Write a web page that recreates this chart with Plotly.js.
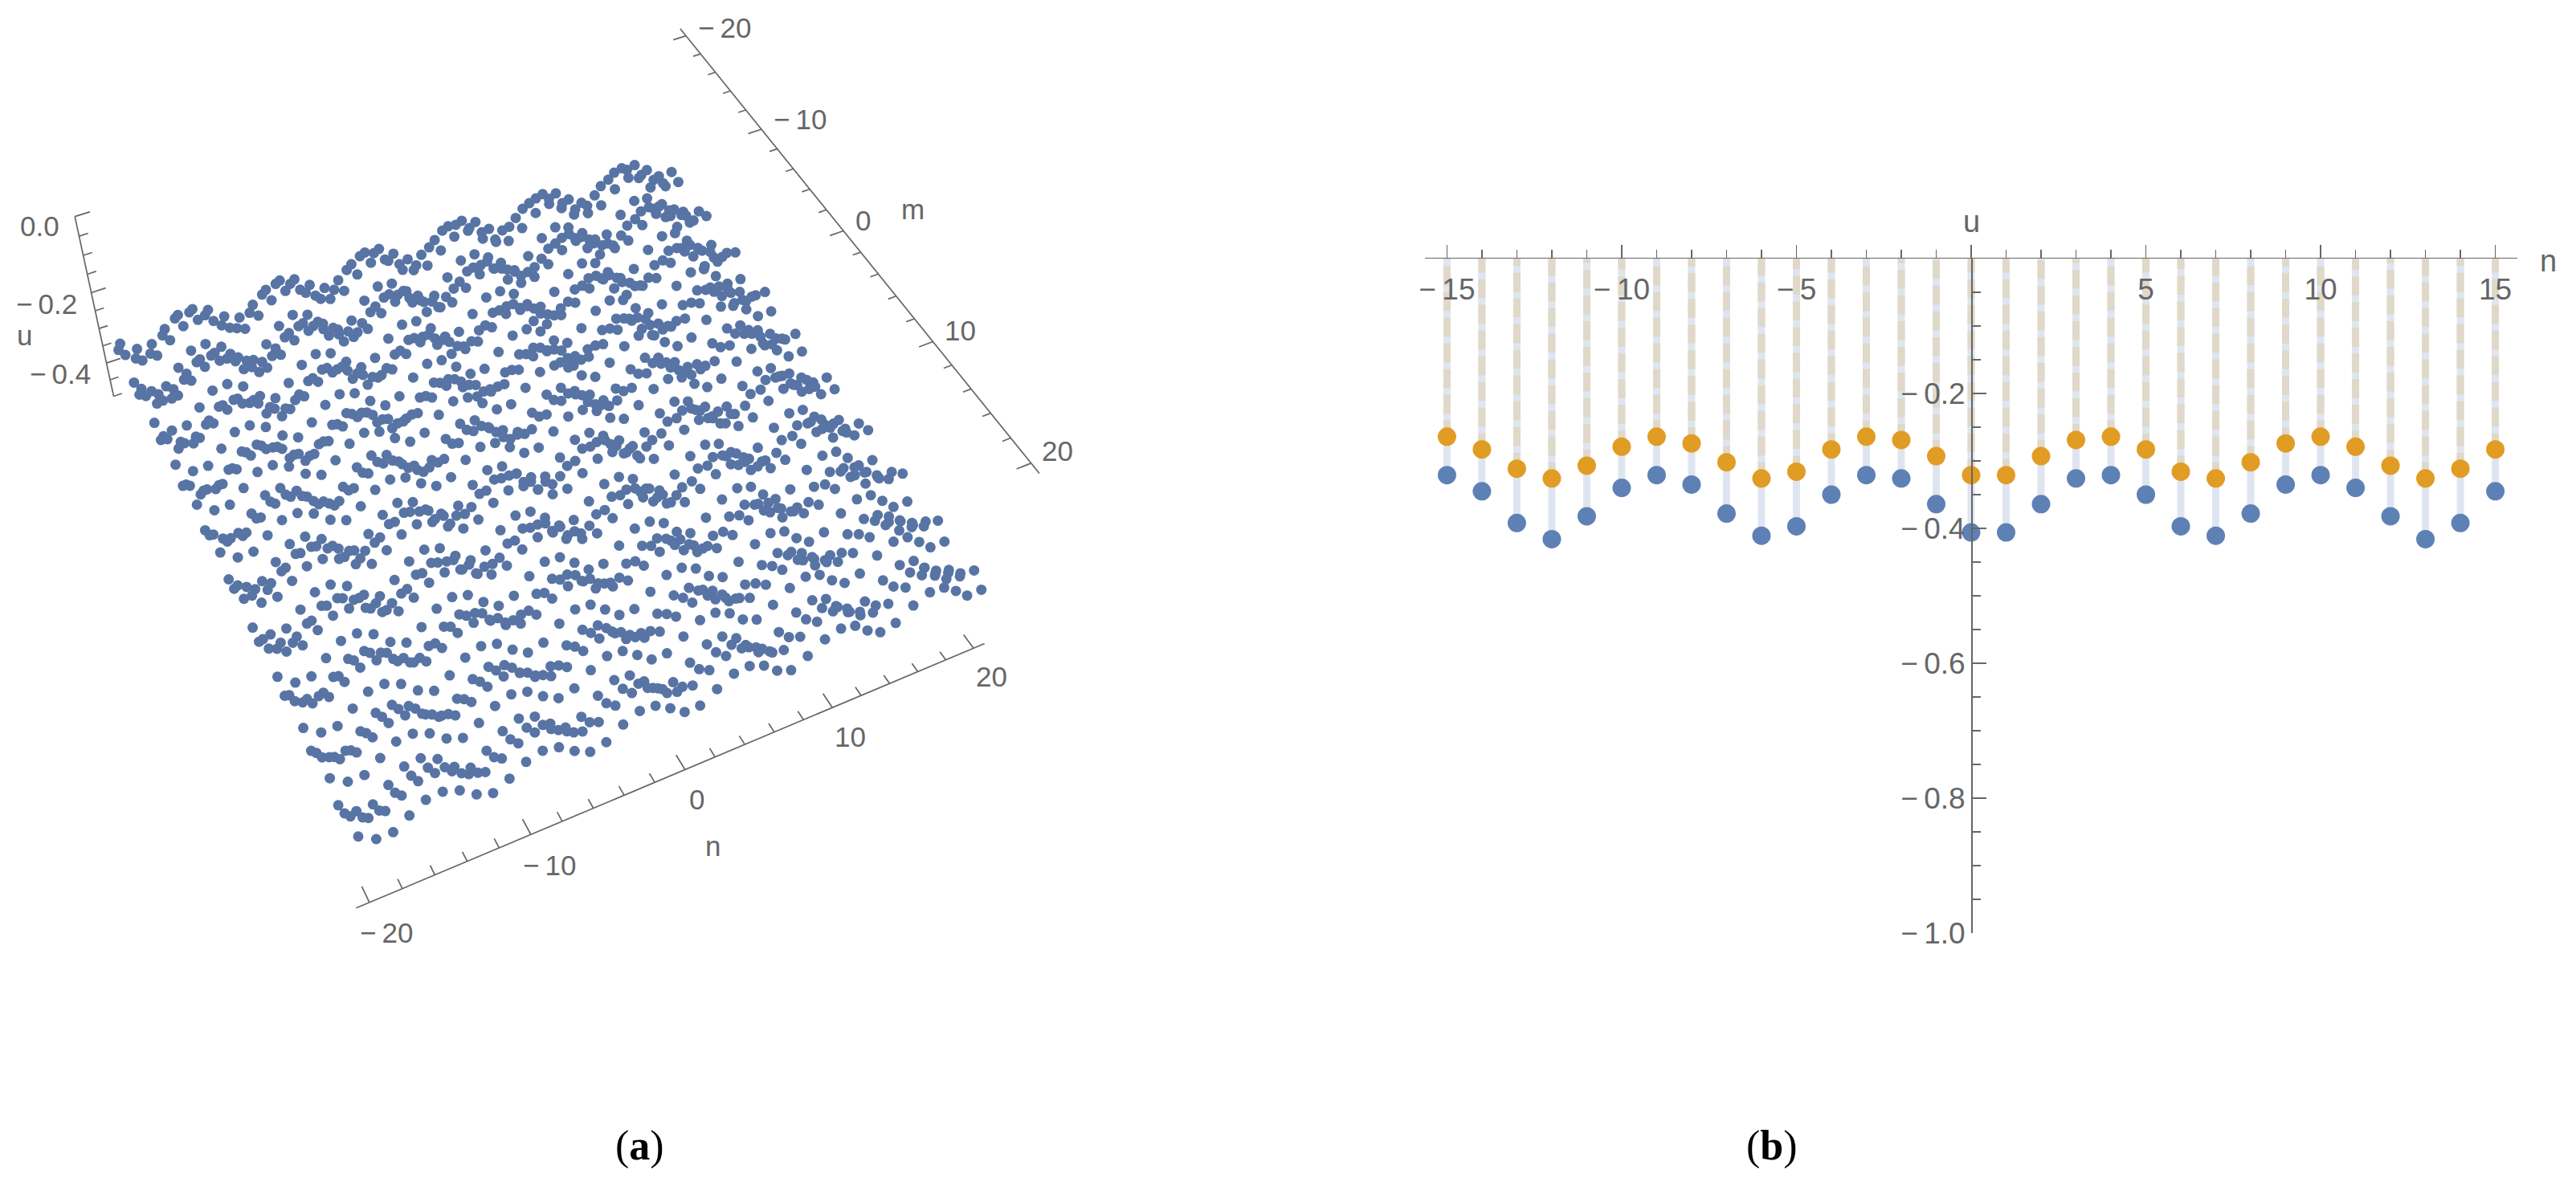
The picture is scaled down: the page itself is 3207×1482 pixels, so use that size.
<!DOCTYPE html>
<html><head><meta charset="utf-8"><script src="https://cdn.plot.ly/plotly-3.0.1.min.js"></script>
<style>body{margin:0;background:#fff;overflow:hidden}#g{width:3207px;height:1482px}</style></head>
<body><div id="g"></div>
<script>
// Panel (b): values
const nB=[-15,-14,-13,-12,-11,-10,-9,-8,-7,-6,-5,-4,-3,-2,-1,0,1,2,3,4,5,6,7,8,9,10,11,12,13,14,15];
const blue=[-.321,-.345,-.392,-.416,-.382,-.340,-.321,-.335,-.378,-.411,-.397,-.350,-.321,-.326,-.364,-.406,-.406,-.364,-.326,-.321,-.350,-.397,-.411,-.378,-.335,-.321,-.340,-.382,-.416,-.392,-.345];
const orange=[-.264,-.283,-.3115,-.326,-.307,-.279,-.264,-.274,-.302,-.326,-.316,-.283,-.264,-.269,-.293,-.321,-.321,-.293,-.269,-.264,-.283,-.316,-.326,-.302,-.274,-.264,-.279,-.307,-.326,-.3115,-.283];
const xTicks=[-15,-10,-5,0,5,10,15],xLabels=['−\u200915','−\u200910','−\u20095','','5','10','15'];
const yTicks=[-.2,-.4,-.6,-.8,-1],yLabels=['−\u20090.2','−\u20090.4','−\u20090.6','−\u20090.8','−\u20091.0'];
const yMinor=[-.05,-.1,-.15,-.25,-.3,-.35,-.45,-.5,-.55,-.65,-.7,-.75,-.85,-.9,-.95];
// Panel (a): one repeating cell of the surface; rows by m (period 21), columns from n=-20 (period 19)
const uM0=[-.358,-.399,-.399,-.358,-.321,-.316,-.340,-.386,-.409,-.376,-.335,-.316,-.330,-.372,-.404,-.390,-.344,-.316,-.321];
const uM1=[-.349,-.388,-.388,-.349,-.314,-.310,-.332,-.375,-.397,-.366,-.327,-.310,-.323,-.362,-.393,-.380,-.336,-.310,-.314];
const uM2=[-.301,-.330,-.330,-.301,-.275,-.272,-.288,-.320,-.337,-.314,-.285,-.272,-.282,-.311,-.333,-.324,-.292,-.272,-.275];
const uM3=[-.303,-.333,-.333,-.303,-.277,-.273,-.290,-.323,-.340,-.316,-.286,-.273,-.283,-.313,-.336,-.326,-.293,-.273,-.277];
const uM4=[-.352,-.392,-.392,-.352,-.317,-.312,-.334,-.379,-.401,-.369,-.330,-.312,-.325,-.365,-.396,-.383,-.339,-.312,-.317];
const uM5=[-.356,-.397,-.397,-.356,-.320,-.315,-.338,-.383,-.406,-.373,-.333,-.315,-.328,-.370,-.401,-.388,-.343,-.315,-.320];
const uM6=[-.308,-.338,-.338,-.308,-.281,-.277,-.294,-.328,-.346,-.321,-.291,-.277,-.287,-.318,-.342,-.332,-.298,-.277,-.281];
const uM7=[-.297,-.325,-.325,-.297,-.272,-.269,-.285,-.316,-.332,-.309,-.282,-.269,-.278,-.307,-.328,-.319,-.288,-.269,-.272];
const uM8=[-.343,-.381,-.381,-.343,-.309,-.305,-.326,-.369,-.390,-.360,-.322,-.305,-.317,-.356,-.386,-.373,-.331,-.305,-.309];
const uM9=[-.361,-.402,-.402,-.361,-.324,-.319,-.343,-.389,-.412,-.379,-.338,-.319,-.333,-.375,-.407,-.393,-.347,-.319,-.324];
const uM10=[-.317,-.349,-.349,-.317,-.288,-.284,-.303,-.338,-.357,-.331,-.299,-.284,-.295,-.328,-.353,-.342,-.306,-.284,-.288];
const uM11=[-.293,-.320,-.320,-.293,-.269,-.266,-.281,-.311,-.327,-.305,-.278,-.266,-.275,-.302,-.324,-.315,-.285,-.266,-.269];
const uM12=[-.334,-.369,-.369,-.334,-.301,-.297,-.317,-.357,-.378,-.349,-.313,-.297,-.309,-.346,-.374,-.362,-.322,-.297,-.301];
const uM13=[-.363,-.405,-.405,-.363,-.325,-.320,-.344,-.391,-.415,-.381,-.339,-.320,-.334,-.377,-.410,-.396,-.349,-.320,-.325];
const uM14=[-.325,-.359,-.359,-.325,-.294,-.290,-.309,-.348,-.367,-.340,-.305,-.290,-.301,-.336,-.363,-.352,-.313,-.290,-.294];
const uM15=[-.294,-.321,-.321,-.294,-.270,-.267,-.282,-.312,-.328,-.306,-.279,-.267,-.276,-.303,-.325,-.316,-.286,-.267,-.270];
const uM16=[-.315,-.348,-.348,-.315,-.284,-.280,-.300,-.337,-.356,-.329,-.296,-.280,-.292,-.326,-.352,-.341,-.304,-.280,-.284];
const uM17=[-.356,-.398,-.398,-.356,-.318,-.313,-.337,-.384,-.408,-.374,-.332,-.313,-.327,-.370,-.403,-.389,-.342,-.313,-.318];
const uM18=[-.335,-.371,-.371,-.335,-.302,-.298,-.318,-.359,-.379,-.350,-.314,-.298,-.310,-.347,-.375,-.363,-.323,-.298,-.302];
const uM19=[-.297,-.325,-.325,-.297,-.273,-.269,-.285,-.316,-.331,-.309,-.282,-.269,-.279,-.307,-.328,-.319,-.288,-.269,-.273];
const uM20=[-.314,-.346,-.346,-.314,-.286,-.282,-.300,-.335,-.353,-.328,-.296,-.282,-.292,-.325,-.349,-.339,-.304,-.282,-.286];
const uCell=[uM0,uM1,uM2,uM3,uM4,uM5,uM6,uM7,uM8,uM9,uM10,uM11,uM12,uM13,uM14,uM15,uM16,uM17,uM18,uM19,uM20];
const gridTicks=[-20,-18,-16,-14,-12,-10,-8,-6,-4,-2,0,2,4,6,8,10,12,14,16,18,20];
const uAxisTicks=[0,-.05,-.1,-.15,-.2,-.25,-.3,-.35,-.4,-.45,-.5];

// 3D view: camera
const R=20.8,cx=650,cy=600,eye=[1.7698,-0.8915,2.3671],cen=[0.0793,-0.0540,0],roll=-0.0160,arz=0.3994,focal=2627.7355;
const dot=(a,b)=>a[0]*b[0]+a[1]*b[1]+a[2]*b[2],cr=(a,b)=>[a[1]*b[2]-a[2]*b[1],a[2]*b[0]-a[0]*b[2],a[0]*b[1]-a[1]*b[0]],nm=a=>{const l=Math.sqrt(dot(a,a));return a.map(v=>v/l)};
const f=nm([cen[0]-eye[0],cen[1]-eye[1],cen[2]-eye[2]]),s0=nm(cr(f,[0,0,1])),v0=cr(s0,f);
const up=[0,1,2].map(i=>v0[i]*Math.cos(roll)+s0[i]*Math.sin(roll)),sv=nm(cr(f,up)),vv=cr(sv,f);
function pr(m,n,u){const d=[m/(2*R)-eye[0],n/(2*R)-eye[1],arz*(u+.25)/.5-eye[2]];const F=focal/dot(d,f);return[cx+F*dot(d,sv),cy-F*dot(d,vv)]}

const ax=[],ay=[];const seg=(a,b)=>{const A=pr(...a),B=pr(...b);ax.push(A[0],B[0],null);ay.push(A[1],B[1],null)};
seg([-R,R,0],[R,R,0]);seg([R,-R,-.5],[R,R,-.5]);seg([-R,-R,0],[-R,-R,-.5]);
gridTicks.forEach(k=>{const L=k%10==0;seg([k,R,0],[k,R-(L?.95:.55),0]);seg([R,k,-.5],[R-(L?1.1:.66),k,-.5])});
uAxisTicks.forEach((u,i)=>seg([-R,-R,u],[-R,-R+(i%4==0?.95:.58),u]));
const mx=[],my=[];
for(let m=-20;m<=20;m++)for(let n=-20;n<=20;n++){const q=pr(m,n,uCell[((m%21)+21)%21][(n+20)%19]);mx.push(q[0]);my.push(q[1])}

const F3="Liberation Sans, Arial, sans-serif",G='#666';
const lab=(m,n,u,text,dx,dy)=>{const q=pr(m,n,u);return{xref:'x2',yref:'y2',x:q[0],y:q[1],xshift:dx,yshift:-dy,text,showarrow:false,xanchor:'center',yanchor:'middle',font:{family:F3,size:35,color:G}}};
const pap=(x,y,text,family,size,color)=>({xref:'paper',yref:'paper',x:x/3207,y:1-y/1482,text,showarrow:false,xanchor:'center',yanchor:'middle',font:{family,size,color}});
const ann=[lab(R,-20,-.5,'−\u200920',21,38),lab(R,-10,-.5,'−\u200910',23,38),lab(R,0,-.5,'0',14.5,37),lab(R,10,-.5,'10',22,36),lab(R,20,-.5,'20',23,35),lab(R,0,-.5,'n',35,95),
lab(-20,R,0,'−\u200920',48,-10),lab(-10,R,0,'−\u200910',48,-12),lab(0,R,0,'0',24,-13),lab(10,R,0,'10',34,-14),lab(20,R,0,'20',33,-15),lab(0,R,0,'m',86,-27),
lab(-R,-R,0,'0.0',-44,12),lab(-R,-R,-.2,'−\u20090.2',-56,14),lab(-R,-R,-.4,'−\u20090.4',-58,13),lab(-R,-R,-.3,'u',-93,8),
pap(796,1427,'(<b>a</b>)','Liberation Serif',52,'#000'),pap(2206,1427,'(<b>b</b>)','Liberation Serif',52,'#000'),
pap(2454,276,'u',F3,38,G),pap(3172,325,'n',F3,38,G)];
const stemTop=.0054,sb={x:[],y:[]},so={x:[],y:[]};
nB.forEach((n,i)=>{sb.x.push(n,n,null);sb.y.push(stemTop,blue[i],null);so.x.push(n,n,null);so.y.push(orange[i],stemTop,null)});
let dash='20px,8.5px';for(let i=0;i<8;i++)dash+=',23.5px,8.5px';
const tk={ticks:'outside',tickwidth:1.3,tickcolor:G};
Plotly.newPlot('g',[
{type:'scatter',mode:'lines',x:sb.x,y:sb.y,line:{color:'#dfe5f0',width:9},cliponaxis:false,hoverinfo:'skip'},
{type:'scatter',mode:'lines',x:so.x,y:so.y,line:{color:'#e0d8c8',width:9,dash},cliponaxis:false,hoverinfo:'skip'},
{type:'scatter',mode:'markers',x:nB,y:blue,marker:{size:23,color:'#5e81b5'},cliponaxis:false},
{type:'scatter',mode:'markers',x:nB,y:orange,marker:{size:23,color:'#e19c24'},cliponaxis:false},
{type:'scatter',mode:'markers',xaxis:'x3',yaxis:'y',x:[0],y:[0],marker:{opacity:0},hoverinfo:'skip'},
{type:'scatter',mode:'lines',xaxis:'x2',yaxis:'y2',x:ax,y:ay,line:{color:G,width:1.7},hoverinfo:'skip'},
{type:'scatter',mode:'markers',xaxis:'x2',yaxis:'y2',x:mx,y:my,marker:{size:13,color:'#5874a4'},hoverinfo:'skip'}],
{width:3207,height:1482,margin:{l:0,r:0,t:0,b:0},showlegend:false,paper_bgcolor:'#fff',plot_bgcolor:'rgba(0,0,0,0)',annotations:ann,
xaxis:{domain:[1774/3207,3134/3207],range:[-15.63,15.63],side:'top',anchor:'y',showgrid:false,zeroline:false,showline:true,linecolor:G,linewidth:1.5,tickmode:'array',tickvals:xTicks,showticklabels:false,...tk,ticklen:16,minor:{tickmode:'array',tickvals:nB,...tk,ticklen:10}},
xaxis3:{domain:[1774/3207,3134/3207],range:[-15.63,15.63],overlaying:'x',side:'bottom',anchor:'free',position:1-335/1482,showgrid:false,zeroline:false,showline:false,ticks:'',tickmode:'array',tickvals:xTicks,ticktext:xLabels,tickfont:{family:F3,size:37,color:G}},
yaxis:{domain:[320/1482,1160/1482],range:[-1,0],anchor:'free',position:2454/3207,side:'left',showgrid:false,zeroline:false,showline:true,linecolor:G,linewidth:1.5,tickmode:'array',tickvals:yTicks,ticktext:yLabels,ticks:'inside',ticklen:17,tickwidth:1.3,tickcolor:G,tickfont:{family:F3,size:37,color:G},minor:{tickmode:'array',tickvals:yMinor,ticks:'inside',ticklen:10.5,tickwidth:1.3,tickcolor:G}},
xaxis2:{domain:[0,1],range:[0,3207],visible:false,anchor:'y2'},yaxis2:{domain:[0,1],range:[1482,0],visible:false,anchor:'x2'}},{staticPlot:true});
</script></body></html>
